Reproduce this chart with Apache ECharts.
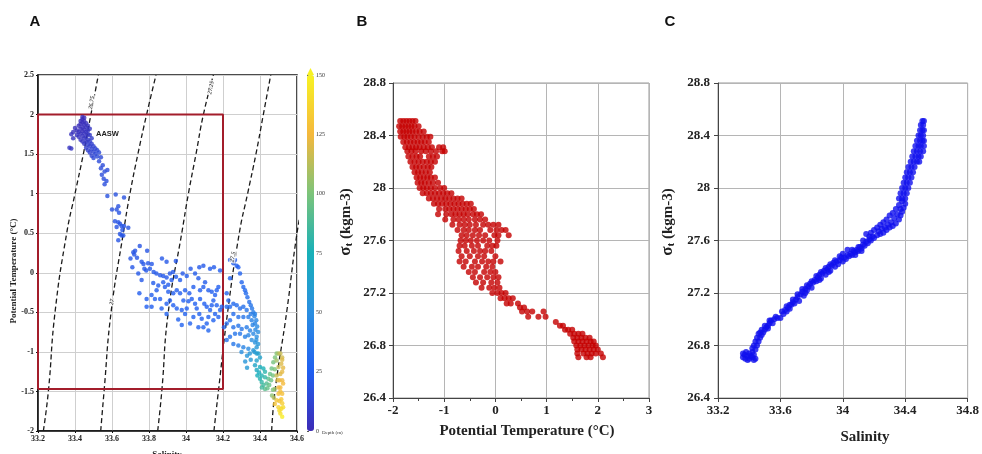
<!DOCTYPE html>
<html><head><meta charset="utf-8">
<script src="https://cdn.jsdelivr.net/npm/echarts@6/dist/echarts.min.js"></script>
<style>html,body{margin:0;padding:0;background:#fff}#c{width:982px;height:454px}</style>
</head><body><div id="c"></div>
<script>
// ---------- Panel A : T-S diagram (salinity, potential temperature, depth) ----------
const aSurface = [
[33.37,1.58,5],[33.38,1.57,5],[33.38,1.75,4],[33.39,1.78,3],[33.39,1.70,4],[33.40,1.83,2],[33.41,1.80,3],[33.41,1.74,4],[33.42,1.86,2],[33.42,1.78,3],[33.42,1.72,4],[33.43,1.92,2],[33.43,1.88,2],[33.43,1.82,3],[33.43,1.76,4],[33.43,1.68,5],[33.44,1.97,1],[33.44,1.94,1],[33.44,1.90,2],[33.44,1.84,3],[33.44,1.79,3],[33.44,1.73,4],[33.44,1.66,6],[33.45,1.96,1],[33.45,1.92,2],[33.45,1.87,3],[33.45,1.81,3],[33.45,1.76,4],[33.45,1.70,5],[33.45,1.63,7],[33.46,1.89,3],[33.46,1.84,3],[33.46,1.78,4],[33.46,1.72,5],[33.46,1.66,7],[33.46,1.58,9],[33.47,1.86,4],[33.47,1.80,5],[33.47,1.75,5],[33.47,1.68,7],[33.47,1.62,9],[33.47,1.55,10],[33.48,1.82,6],[33.48,1.74,7],[33.48,1.66,9],[33.48,1.60,10],[33.48,1.52,11],[33.49,1.70,9],[33.49,1.63,10],[33.49,1.56,11],[33.49,1.48,12],[33.50,1.60,11],[33.50,1.53,12],[33.50,1.45,13],[33.51,1.57,12],[33.51,1.50,13],[33.52,1.55,13],[33.52,1.47,14]
];
const aTrail = [
[33.53,1.52,14],[33.54,1.46,14],[33.53,1.41,15],[33.55,1.36,15],[33.54,1.32,15],[33.56,1.28,16],[33.545,1.24,16],[33.555,1.19,16],[33.57,1.16,17],[33.56,1.12,17],[33.575,1.30,16],
[33.575,0.97,18],[33.62,0.99,18],[33.665,0.95,18],[33.60,0.80,18],[33.625,0.80,18],[33.634,0.84,18],[33.638,0.76,19],[33.616,0.65,19],[33.634,0.64,19],[33.643,0.62,19],[33.625,0.58,19],[33.652,0.59,19],[33.665,0.59,19],[33.688,0.57,19],[33.656,0.54,20],[33.643,0.49,20],[33.652,0.47,20],[33.661,0.47,20],[33.634,0.41,20]
];
const aMiddle = [
[33.70,0.18,20],[33.715,0.26,20],[33.725,0.28,20],[33.72,0.23,20],[33.75,0.34,19],[33.79,0.28,20],[33.71,0.07,21],[33.735,0.19,20],[33.76,0.14,21],[33.77,0.11,21],[33.795,0.12,21],[33.815,0.11,21],[33.87,0.18,21],[33.895,0.14,21],[33.945,0.15,21],[33.775,0.05,21],[33.785,0.03,22],[33.805,0.05,22],[33.825,0.01,22],[33.84,-0.01,22],[33.86,-0.03,22],[33.877,-0.04,22],[33.895,-0.06,22],[33.913,-0.01,22],[33.93,0.01,22],[33.742,-0.01,22],[33.76,-0.09,22],[33.877,-0.12,23],[33.886,-0.18,23],[33.904,-0.15,23],[33.922,-0.09,23],[33.946,-0.05,23],[33.968,-0.09,23],[33.982,-0.01,22],[34.004,-0.04,23],[34.025,0.05,22],[34.049,-0.01,23],[34.072,0.07,22],[34.094,0.09,22],[34.13,0.05,23],[34.151,0.07,23],[34.184,0.03,24],
[33.748,-0.26,24],[33.787,-0.33,24],[33.814,-0.28,24],[33.787,-0.43,25],[33.814,-0.43,25],[33.868,-0.45,25],[33.895,-0.39,25],[33.913,-0.35,25],[33.931,-0.41,25],[33.95,-0.45,25],[33.958,-0.59,26],[33.977,-0.66,27],[33.931,-0.26,24],[33.95,-0.22,24],[33.968,-0.26,24],[33.986,-0.35,25],[34.004,-0.45,25],[33.995,-0.22,24],[34.018,-0.26,24],[34.031,-0.33,25],[34.049,-0.39,25],[34.058,-0.45,25],[34.072,-0.52,26],[34.085,-0.58,26],[34.067,-0.69,27],[34.094,-0.69,27],[34.112,-0.64,27],[34.121,-0.56,26],[34.13,-0.47,26],[34.139,-0.41,25],[34.148,-0.35,25],[34.157,-0.28,25],[34.166,-0.22,25],[34.175,-0.18,25],[34.076,-0.22,24],[34.094,-0.18,24],[34.103,-0.12,23],[34.067,-0.07,23],[34.121,-0.22,24],[34.139,-0.24,25],[34.076,-0.33,25],[34.099,-0.39,25],[34.112,-0.43,25],[34.157,-0.52,26],[34.175,-0.56,27],[34.184,-0.47,27],[34.193,-0.43,27],[34.166,-0.41,26],[34.148,-0.60,27],[34.121,-0.73,28],[34.04,-0.56,26],[34.022,-0.64,27],[33.995,-0.52,26],[33.977,-0.47,25],[34.013,-0.36,25],[34.04,-0.18,24],[33.841,-0.22,23],[33.823,-0.13,23],[33.85,-0.16,23],[33.904,-0.24,24],[33.86,-0.33,24],[33.832,-0.33,24],[33.895,-0.52,26]
];
const aRight = [
[34.238,0.16,24],[34.256,0.12,24],[34.265,0.16,24],[34.274,0.09,25],[34.283,0.07,25],[34.238,-0.07,26],[34.292,-0.01,27],[34.301,-0.12,28],[34.31,-0.18,29],[34.319,-0.22,30],[34.324,-0.26,31],[34.332,-0.31,32],[34.342,-0.37,34],[34.35,-0.41,36],[34.357,-0.45,38],[34.364,-0.50,40],[34.373,-0.52,42],[34.22,-0.26,28],[34.229,-0.35,29],[34.22,-0.43,30],[34.238,-0.43,30],[34.256,-0.39,30],[34.274,-0.41,31],[34.292,-0.45,33],[34.31,-0.43,34],[34.328,-0.47,36],[34.256,-0.52,32],[34.283,-0.56,34],[34.31,-0.56,36],[34.337,-0.56,39],[34.355,-0.60,42],[34.373,-0.64,45],[34.238,-0.60,32],[34.22,-0.64,31],[34.205,-0.69,30],[34.256,-0.69,34],[34.283,-0.67,36],[34.301,-0.71,38],[34.328,-0.69,40],[34.346,-0.73,43],[34.364,-0.77,47],[34.382,-0.81,50],[34.373,-0.88,52],[34.355,-0.85,50],[34.337,-0.79,45],[34.319,-0.81,42],[34.292,-0.77,38],[34.265,-0.77,36],[34.238,-0.81,35],[34.22,-0.85,34],[34.256,-0.90,37],[34.283,-0.92,40],[34.31,-0.94,44],[34.337,-0.96,48],[34.364,-0.98,55],[34.382,-0.94,56],
[34.37,-0.55,44],[34.38,-0.60,46],[34.385,-0.68,48],[34.375,-0.72,47],[34.39,-0.75,50],[34.36,-0.66,44],[34.35,-0.52,40],[34.38,-0.85,52],[34.39,-0.90,55],[34.37,-1.0,58],[34.345,-1.02,56],[34.33,-1.05,55],[34.35,-1.1,58],[34.30,-1.0,50],[34.32,-1.12,55],[34.33,-1.2,58]
];
const aDeep = [
[34.382,-1.02,60],[34.391,-1.02,62],[34.4,-1.07,64],[34.382,-1.11,64],[34.373,-1.17,66],[34.382,-1.23,70],[34.386,-1.30,74],[34.4,-1.34,78],[34.409,-1.38,82],[34.418,-1.42,86],[34.427,-1.47,92],[34.436,-1.40,90],[34.445,-1.34,92],[34.454,-1.28,94],[34.463,-1.21,96],[34.472,-1.13,98],[34.481,-1.07,100],[34.49,-1.02,102],[34.409,-1.30,78],[34.427,-1.32,82],[34.4,-1.19,72],[34.418,-1.21,76],[34.427,-1.25,80],[34.395,-1.26,72],[34.41,-1.45,86],[34.44,-1.46,94],[34.45,-1.42,95],[34.46,-1.36,96],[34.47,-1.30,98],[34.48,-1.22,100],[34.47,-1.48,100],[34.465,-1.55,104]
];
const aBottom = [
[34.49,-1.11,108],[34.50,-1.02,110],[34.50,-1.19,115],[34.51,-1.28,120],[34.52,-1.36,124],[34.51,-1.45,126],[34.50,-1.53,128],[34.49,-1.61,130],[34.50,-1.70,136],[34.51,-1.78,142],[34.52,-1.82,148],[34.52,-1.53,128],[34.52,-1.25,122],[34.52,-1.07,118],[34.51,-1.02,116],[34.48,-1.47,106],[34.475,-1.58,112],[34.48,-1.66,130],[34.505,-1.74,140],[34.515,-1.15,120],[34.505,-1.36,124],[34.495,-1.36,120],[34.52,-1.65,134],[34.515,-1.60,132],[34.505,-1.62,130],[34.525,-1.40,126],[34.525,-1.20,122],[34.525,-1.70,140],[34.515,-1.72,140],[34.50,-1.45,124],[34.49,-1.30,116],[34.52,-1.10,120],[34.51,-1.50,128]
];
// isopycnals (sigma-t) : salinity read at given temperatures
const isoT      = [-2, -1.5, -0.5, 0.5, 1, 1.5, 2, 2.5];
const iso2675   = [33.229, 33.256, 33.292, 33.355, 33.40, 33.445, 33.486, 33.526];
const iso27     = [33.539, 33.557, 33.595, 33.661, 33.697, 33.74, 33.787, 33.838];
const iso2725   = [33.847, 33.869, 33.904, 33.977, 34.013, 34.054, 34.094, 34.148];
const iso275    = [34.151, 34.175, 34.225, 34.288, 34.333, 34.378, 34.418, 34.458];
const iso2775T  = [-2, -1.5, -0.5, 0.5, 1];
const iso2775   = [34.463, 34.481, 34.544, 34.60, 34.64];
const isoLabelText = ['26.75', '27', '27.25', '27.5'];
const isoLabelS    = [33.49, 33.60, 34.135, 34.254];
const isoLabelT    = [2.15, -0.37, 2.34, 0.20];
// AASW box
const boxS = [33.2, 34.2, 34.2, 33.2, 33.2];
const boxT = [-1.47, -1.47, 2.0, 2.0, -1.47];
const depthTicks = [0, 150, 25];

// ---------- Panel B : sigma-t vs potential temperature (rows: [sigma, thetas]) ----------
const bUpperRows = [
 [28.51,[-1.86,-1.80,-1.74,-1.68,-1.62,-1.56]],
 [28.47,[-1.88,-1.82,-1.76,-1.70,-1.64,-1.58,-1.50]],
 [28.43,[-1.86,-1.80,-1.74,-1.68,-1.62,-1.55,-1.48,-1.40]],
 [28.39,[-1.85,-1.78,-1.72,-1.65,-1.58,-1.50,-1.42,-1.34,-1.27]],
 [28.35,[-1.80,-1.73,-1.66,-1.59,-1.52,-1.45,-1.38,-1.30]],
 [28.31,[-1.76,-1.69,-1.62,-1.55,-1.48,-1.40,-1.32,-1.24,-1.10,-1.02]],
 [28.28,[-1.72,-1.64,-1.56,-1.45,-1.36,-1.26,-1.16,-1.04,-0.99]],
 [28.24,[-1.70,-1.62,-1.54,-1.47,-1.30,-1.22,-1.14]],
 [28.20,[-1.66,-1.58,-1.50,-1.42,-1.34,-1.26,-1.18]],
 [28.16,[-1.62,-1.55,-1.48,-1.40,-1.32,-1.25]],
 [28.12,[-1.58,-1.51,-1.44,-1.36,-1.28]],
 [28.08,[-1.54,-1.47,-1.40,-1.33,-1.26,-1.18]],
 [28.04,[-1.52,-1.45,-1.38,-1.30,-1.22,-1.12]],
 [28.00,[-1.48,-1.41,-1.34,-1.26,-1.18,-1.08,-1.00]]
];
const bMidRows = [
 [27.96,[-1.42,-1.34,-1.26,-1.18,-1.10,-1.02,-0.94,-0.86]],
 [27.92,[-1.30,-1.22,-1.14,-1.06,-0.98,-0.90,-0.82,-0.74,-0.66]],
 [27.88,[-1.20,-1.12,-1.04,-0.96,-0.88,-0.80,-0.72,-0.64,-0.56,-0.48]],
 [27.84,[-1.10,-0.98,-0.90,-0.82,-0.74,-0.66,-0.58,-0.50,-0.42]],
 [27.80,[-1.12,-0.96,-0.86,-0.78,-0.70,-0.62,-0.54,-0.44,-0.36,-0.28]],
 [27.76,[-0.98,-0.82,-0.72,-0.62,-0.52,-0.40,-0.30,-0.20]],
 [27.72,[-0.84,-0.70,-0.60,-0.50,-0.38,-0.24,-0.14,-0.04,0.06]],
 [27.68,[-0.74,-0.62,-0.52,-0.40,-0.30,-0.10,0.02,0.12,0.20]],
 [27.64,[-0.66,-0.56,-0.44,-0.32,-0.20,-0.02,0.06,0.26]],
 [27.60,[-0.68,-0.58,-0.48,-0.36,-0.24,-0.12,0.04]]
];
const bLowMidRows = [
 [27.56,[-0.70,-0.60,-0.46,-0.34,-0.16,-0.06,0.02]],
 [27.52,[-0.72,-0.56,-0.42,-0.30,-0.20,-0.08]],
 [27.48,[-0.66,-0.50,-0.34,-0.22,0.00]],
 [27.44,[-0.70,-0.58,-0.40,-0.26,-0.14,-0.04,0.10]],
 [27.40,[-0.62,-0.46,-0.34,-0.18,-0.06]],
 [27.36,[-0.52,-0.40,-0.22,-0.10,0.00]],
 [27.32,[-0.44,-0.30,-0.16,-0.04,0.06]],
 [27.28,[-0.38,-0.24,-0.08,0.04]],
 [27.24,[-0.27,-0.12,-0.02,0.08]],
 [27.20,[-0.06,0.04,0.12,0.20]]
];
const bLowRows = [
 [27.16,[0.10,0.18,0.26,0.34]],
 [27.12,[0.22,0.30,0.44]],
 [27.09,[0.48,0.56]],
 [27.06,[0.52,0.62,0.72,0.94]],
 [27.02,[0.64,0.84,0.98]],
 [26.98,[1.18]],
 [26.95,[1.26,1.32]],
 [26.92,[1.36,1.42,1.50]],
 [26.89,[1.46,1.54,1.62,1.70]],
 [26.86,[1.52,1.60,1.68,1.76,1.84]],
 [26.83,[1.54,1.62,1.70,1.78,1.86,1.92]],
 [26.80,[1.58,1.66,1.74,1.82,1.90,1.96]],
 [26.77,[1.60,1.68,1.76,1.84,1.92,2.00]],
 [26.74,[1.60,1.72,1.80,1.88,1.96,2.06]],
 [26.71,[1.62,1.78,1.86,2.10]]
];

// ---------- Panel C : sigma-t vs salinity ----------
const cLower = [
[33.36,26.71],[33.37,26.73],[33.375,26.70],[33.38,26.75],[33.39,26.72],[33.40,26.70],[33.40,26.74],[33.41,26.72],[33.42,26.71],[33.42,26.75],[33.43,26.73],[33.42,26.78],[33.44,26.77],[33.43,26.80],[33.45,26.80],[33.44,26.83],[33.46,26.83],[33.45,26.86],[33.47,26.86],[33.48,26.88],[33.46,26.89],[33.49,26.90],[33.50,26.92],[33.48,26.92],[33.51,26.94],[33.52,26.95],[33.53,26.97],[33.54,26.99],[33.56,27.00],[33.58,27.01],[33.60,27.01],[33.62,27.04],[33.63,27.07],[33.64,27.06],[33.65,27.09],[33.66,27.08],[33.67,27.11],[33.68,27.13],[33.69,27.12],[33.70,27.15],[33.71,27.17],[33.72,27.14],[33.73,27.19],[33.74,27.21],[33.75,27.18],[33.76,27.23],[33.77,27.22],[33.78,27.25],[33.79,27.27],[33.80,27.24],[33.81,27.28],[33.82,27.30],[33.83,27.29],[33.84,27.32],[33.85,27.34],[33.86,27.31],[33.87,27.35],[33.88,27.37],[33.89,27.34],[33.90,27.38],[33.91,27.40],[33.92,27.37],[33.93,27.41],[33.94,27.43],[33.95,27.40],[33.96,27.44],[33.97,27.42],[33.98,27.45],[33.99,27.47],[34.00,27.44],[34.01,27.47],[34.02,27.46],[34.03,27.49],[34.04,27.48],[34.05,27.50],[34.06,27.49],[34.07,27.52],[34.08,27.51],[34.09,27.53],[34.10,27.52],[34.11,27.55],[34.12,27.54],[34.13,27.57],[34.14,27.56],[34.15,27.59],[34.16,27.58],[34.03,27.53],[34.15,27.65],[34.17,27.61],[34.18,27.60],[34.19,27.63]
];
const cLowerEdge = [
[33.47,26.90],[33.50,26.95],[33.53,26.99],[33.57,27.02],[33.61,27.06],[33.64,27.10],[33.68,27.15],[33.71,27.19],[33.74,27.23],[33.77,27.26],[33.80,27.29],[33.83,27.33],[33.86,27.36],[33.89,27.39],[33.92,27.42],[33.95,27.45],[33.98,27.48],[34.00,27.50],[34.06,27.53],[34.10,27.55],[34.13,27.60],[34.17,27.63],[33.44,26.70],[33.43,26.69],[33.39,26.69],[33.36,26.74],[33.52,26.93],[33.55,26.97],[33.66,27.11],[33.76,27.20],[33.85,27.30],[33.91,27.36],[34.08,27.49],[34.12,27.52]
];
const cBranches = [
[34.18,27.66],[34.20,27.68],[34.22,27.70],[34.24,27.72],[34.26,27.74],[34.28,27.76],[34.30,27.79],[34.32,27.81],[34.34,27.84],[34.36,27.87],[34.38,27.90],
[34.20,27.62],[34.22,27.64],[34.24,27.65],[34.26,27.66],[34.28,27.68],[34.30,27.70],[34.32,27.71],[34.34,27.73],[34.36,27.76],[34.37,27.79],[34.38,27.82],[34.39,27.85],[34.40,27.88],
[34.23,27.67],[34.27,27.70],[34.31,27.74],[34.35,27.80],[34.33,27.77],[34.37,27.84],[34.29,27.72],[34.25,27.69]
];
const cTopRows = [
 [27.92,[34.36,34.38,34.40]],
 [27.96,[34.37,34.39,34.41]],
 [28.00,[34.38,34.40,34.42]],
 [28.04,[34.39,34.41,34.43]],
 [28.08,[34.40,34.42,34.44]],
 [28.12,[34.41,34.43,34.45]],
 [28.16,[34.42,34.44,34.46]],
 [28.20,[34.435,34.455,34.475,34.49]],
 [28.24,[34.445,34.465,34.485,34.50]],
 [28.28,[34.455,34.475,34.495,34.515]],
 [28.32,[34.465,34.485,34.50,34.52]],
 [28.36,[34.475,34.495,34.51,34.52]],
 [28.40,[34.485,34.50,34.515]],
 [28.44,[34.495,34.51,34.52]],
 [28.48,[34.50,34.515]],
 [28.51,[34.51,34.52]]
];

// ---------- build ----------
const rowsToPts = (rows) => rows.flatMap(([y, xs]) => xs.map(x => [x, y]));
const aAll = [...aSurface, ...aTrail, ...aMiddle, ...aRight, ...aDeep, ...aBottom];
const bAll = [...rowsToPts(bUpperRows), ...rowsToPts(bMidRows), ...rowsToPts(bLowMidRows), ...rowsToPts(bLowRows)];
const cAll = [...cLower, ...cLowerEdge, ...cBranches, ...rowsToPts(cTopRows)];
const isoPts = (sal, ts) => sal.map((s, i) => [s, ts[i]]);

const serif = '"Liberation Serif", "DejaVu Serif", serif';
const lblA = {fontFamily: serif, fontWeight: 'bold', fontSize: 8, color: '#222'};
const lblBC = {fontFamily: serif, fontWeight: 'bold', fontSize: 13, color: '#222'};

const isoStyle = {color: '#1a1a1a', width: 1.3, type: [5, 3]};
const isoSeries = [iso2675, iso27, iso2725, iso275].map(arr => ({
  type: 'line', xAxisIndex: 0, yAxisIndex: 0, data: isoPts(arr, isoT), smooth: true,
  symbol: 'none', lineStyle: isoStyle, z: 2, silent: true
}));
isoSeries.push({type: 'line', xAxisIndex: 0, yAxisIndex: 0, data: isoPts(iso2775, iso2775T), smooth: true,
  symbol: 'none', lineStyle: isoStyle, z: 2, silent: true});

const chart = echarts.init(document.getElementById('c'), null, {renderer: 'canvas'});
chart.setOption({
  animation: false,
  backgroundColor: '#fff',
  grid: [
    {left: 38, top: 75, width: 259, height: 356, show: true, borderColor: '#111', borderWidth: 1.5, backgroundColor: 'transparent'},
    {left: 393, top: 83, width: 256, height: 315, show: true, borderColor: '#999', borderWidth: 1},
    {left: 718, top: 83, width: 255, height: 315, show: true, borderColor: '#999', borderWidth: 1},
    {left: 307, top: 75, width: 7, height: 356, show: false}
  ],
  xAxis: [
    {gridIndex: 0, type: 'value', min: 33.2, max: 34.6, interval: 0.2,
     axisLine: {show: true, onZero: false, lineStyle: {color: '#111', width: 1.5}},
     axisTick: {show: true, length: 2, lineStyle: {color: '#111'}},
     axisLabel: Object.assign({margin: 4}, lblA),
     splitLine: {show: true, lineStyle: {color: '#cfcfcf', width: 1}}},
    {gridIndex: 1, type: 'value', min: -2, max: 3, interval: 1,
     axisLine: {show: true, onZero: false, lineStyle: {color: '#444'}},
     axisTick: {show: true, length: 4, lineStyle: {color: '#444'}},
     minorTick: {show: true, splitNumber: 2, length: 3, lineStyle: {color: '#444'}},
     axisLabel: Object.assign({margin: 6}, lblBC),
     splitLine: {show: true, lineStyle: {color: '#b5b5b5', width: 1}}},
    {gridIndex: 2, type: 'value', min: 33.2, max: 34.8, interval: 0.4,
     axisLine: {show: true, onZero: false, lineStyle: {color: '#444'}},
     axisTick: {show: true, length: 4, lineStyle: {color: '#444'}},
     axisLabel: Object.assign({margin: 6}, lblBC),
     splitLine: {show: true, lineStyle: {color: '#b5b5b5', width: 1}}},
    {gridIndex: 3, type: 'value', show: false, min: 0, max: 1}
  ],
  yAxis: [
    {gridIndex: 0, type: 'value', min: -2, max: 2.5, interval: 0.5,
     axisLine: {show: true, onZero: false, lineStyle: {color: '#111', width: 1.5}},
     axisTick: {show: true, length: 2, lineStyle: {color: '#111'}},
     axisLabel: Object.assign({margin: 4}, lblA),
     splitLine: {show: true, lineStyle: {color: '#cfcfcf', width: 1}}},
    {gridIndex: 1, type: 'value', min: 26.4, max: 28.8, interval: 0.4,
     axisLine: {show: true, onZero: false, lineStyle: {color: '#444'}},
     axisTick: {show: true, length: 4, lineStyle: {color: '#444'}},
     axisLabel: Object.assign({margin: 7}, lblBC),
     splitLine: {show: true, lineStyle: {color: '#b5b5b5', width: 1}}},
    {gridIndex: 2, type: 'value', min: 26.4, max: 28.8, interval: 0.4,
     axisLine: {show: true, onZero: false, lineStyle: {color: '#444'}},
     axisTick: {show: true, length: 4, lineStyle: {color: '#444'}},
     axisLabel: Object.assign({margin: 8}, lblBC),
     splitLine: {show: true, lineStyle: {color: '#b5b5b5', width: 1}}},
    {gridIndex: 3, type: 'value', position: 'right', min: depthTicks[0], max: depthTicks[1], interval: depthTicks[2],
     axisLine: {show: false}, axisTick: {show: true, length: 2, inside: false, lineStyle: {color: '#555'}},
     axisLabel: {fontFamily: serif, fontSize: 6, color: '#333', margin: 2},
     splitLine: {show: false}}
  ],
  visualMap: {
    type: 'continuous', min: 0, max: 150, dimension: 2, seriesIndex: 6,
    left: 307, top: 75, itemWidth: 7, itemHeight: 356, padding: 0,
    calculable: false, hoverLink: false, text: null, showLabel: false,
    inRange: {color: ['#3d2bb5', '#1f5ef0', '#2a8ee0', '#18b0b8', '#7cc47a', '#f5b83c', '#f7f223']}
  },
  graphic: [
    {type: 'polygon', shape: {points: [[307, 75], [314, 75], [310.5, 68]]}, style: {fill: '#f7f223'}, z: 100},
    {type: 'text', x: 322, y: 433, style: {text: 'Depth (m)', font: '5px ' + serif, fill: '#333', align: 'left', verticalAlign: 'middle'}},
    {type: 'text', x: 96, y: 134, style: {text: 'AASW', font: 'bold 7.5px "Liberation Sans", Arial, sans-serif', fill: '#222', align: 'left', verticalAlign: 'middle'}, z: 100},
    {type: 'text', x: 14, y: 271, rotation: Math.PI / 2, style: {text: 'Potential Temperature (°C)', font: 'bold 9px ' + serif, fill: '#222', align: 'center', verticalAlign: 'middle'}},
    {type: 'text', x: 167, y: 455, style: {text: 'Salinity', font: 'bold 9px ' + serif, fill: '#222', align: 'center', verticalAlign: 'middle'}},
    {type: 'text', x: 527, y: 431, style: {text: 'Potential Temperature (°C)', font: 'bold 15px ' + serif, fill: '#222', align: 'center', verticalAlign: 'middle'}},
    {type: 'text', x: 865, y: 437, style: {text: 'Salinity', font: 'bold 15px ' + serif, fill: '#222', align: 'center', verticalAlign: 'middle'}},
    {type: 'text', x: 346, y: 222, rotation: Math.PI / 2, style: {text: '{s|σ}{t|t}{n| (kgm-3)}', align: 'center', verticalAlign: 'middle', fill: '#222',
      rich: {s: {font: 'bold 17px ' + serif, fill: '#222'}, t: {font: 'bold 11px ' + serif, fill: '#222', padding: [6, 0, 0, 0]}, n: {font: 'bold 15px ' + serif, fill: '#222'}}}},
    {type: 'text', x: 668, y: 222, rotation: Math.PI / 2, style: {text: '{s|σ}{t|t}{n| (kgm-3)}', align: 'center', verticalAlign: 'middle', fill: '#222',
      rich: {s: {font: 'bold 17px ' + serif, fill: '#222'}, t: {font: 'bold 11px ' + serif, fill: '#222', padding: [6, 0, 0, 0]}, n: {font: 'bold 15px ' + serif, fill: '#222'}}}},
    {type: 'text', x: 35, y: 22, style: {text: 'A', font: 'bold 15px "Liberation Sans", Arial, sans-serif', fill: '#111', align: 'center', verticalAlign: 'middle'}},
    {type: 'text', x: 362, y: 22, style: {text: 'B', font: 'bold 15px "Liberation Sans", Arial, sans-serif', fill: '#111', align: 'center', verticalAlign: 'middle'}},
    {type: 'text', x: 670, y: 22, style: {text: 'C', font: 'bold 15px "Liberation Sans", Arial, sans-serif', fill: '#111', align: 'center', verticalAlign: 'middle'}}
  ],
  series: [
    ...isoSeries,
    {type: 'line', xAxisIndex: 0, yAxisIndex: 0, data: isoPts(boxS, boxT), symbol: 'none', clip: false,
     lineStyle: {color: '#a31d2b', width: 2}, z: 3, silent: true},
    {type: 'scatter', xAxisIndex: 0, yAxisIndex: 0, data: aAll, symbolSize: 4.5, z: 5, silent: true},
    {type: 'scatter', xAxisIndex: 0, yAxisIndex: 0, symbolSize: 0, z: 6, silent: true,
     data: isoLabelText.map((t, i) => ({value: [isoLabelS[i], isoLabelT[i]], name: t})),
     label: {show: true, position: 'inside', formatter: p => p.name, rotate: 80, fontFamily: serif, fontStyle: 'italic', fontWeight: 'bold',
       fontSize: 6, color: '#222', backgroundColor: '#fff', padding: [0, 1]}},
    {type: 'scatter', xAxisIndex: 1, yAxisIndex: 1, data: bAll, symbolSize: 6, itemStyle: {color: '#c40000'}, silent: true},
    {type: 'scatter', xAxisIndex: 2, yAxisIndex: 2, data: cAll, symbolSize: 6, itemStyle: {color: '#1010ee'}, silent: true}
  ]
});
</script>
</body></html>
